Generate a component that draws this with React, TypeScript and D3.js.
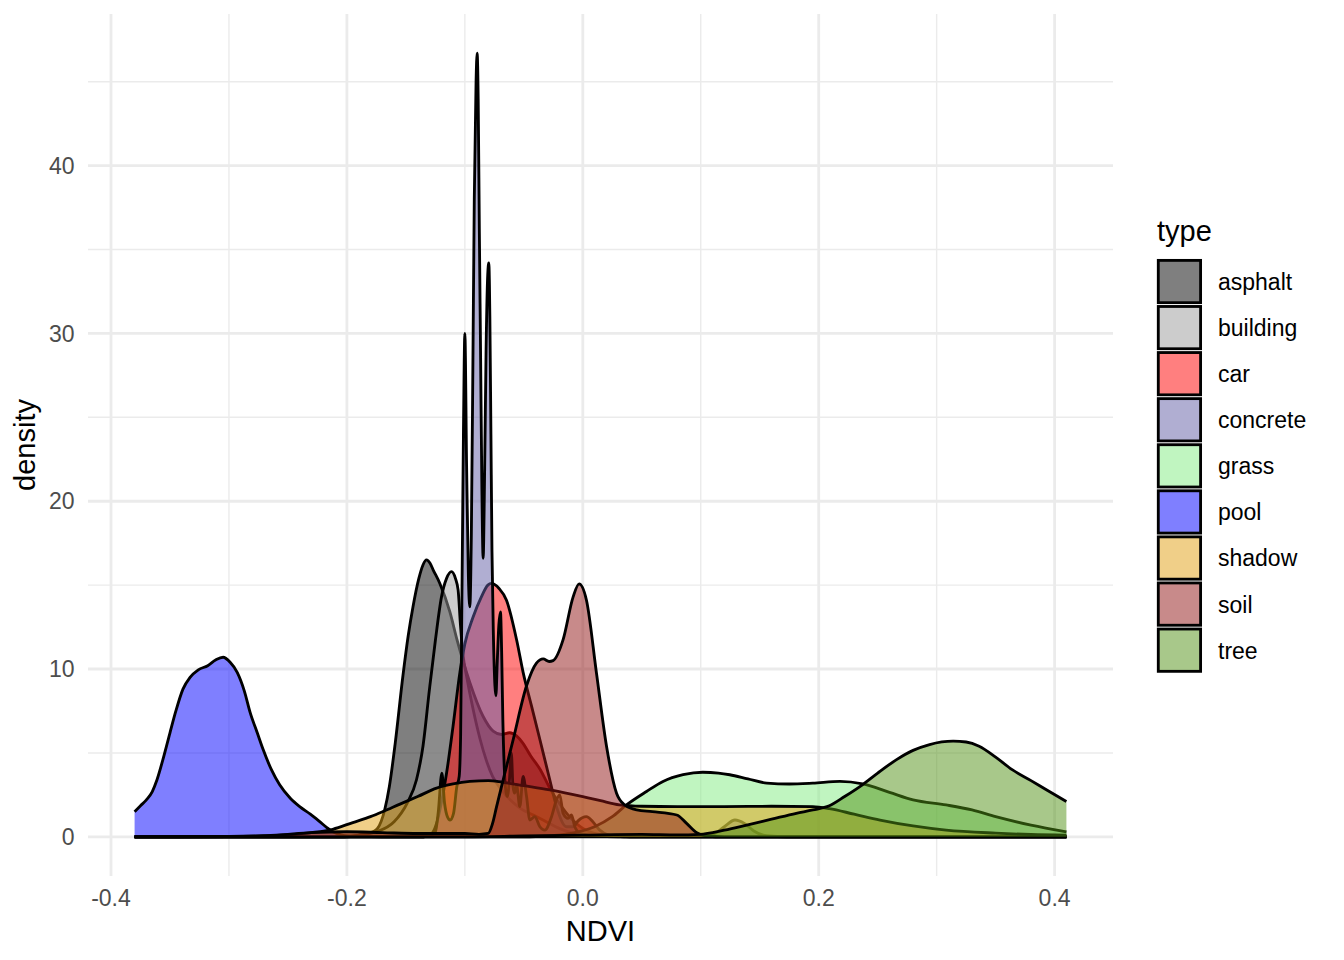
import React from "react";
import * as d3 from "d3";

type Pt = [number, number];

const TYPES = ["asphalt", "building", "car", "concrete", "grass", "pool", "shadow", "soil", "tree"];
const FILLS = ["#000000", "#999999", "#FF0000", "#615DA5", "#82EB82", "#0000FF", "#E19F11", "#911515", "#519115"];

const X_TICKS = [-0.4, -0.2, 0.0, 0.2, 0.4];
const X_TICK_LABELS = ["-0.4", "-0.2", "0.0", "0.2", "0.4"];
const X_MINOR = [-0.3, -0.1, 0.1, 0.3];
const Y_TICKS = [0, 10, 20, 30, 40];
const Y_MINOR = [5, 15, 25, 35, 45];

const asphalt: Pt[] = [[-0.38,0],[-0.21,0],[-0.195,0.05],[-0.185,0.15],[-0.178,0.3],[-0.174,0.5],[-0.168,1.6],[-0.164,3.0],[-0.159,5.6],[-0.1525,9.6],[-0.148,12.0],[-0.144,13.7],[-0.139,15.4],[-0.1355,16.2],[-0.1325,16.5],[-0.1295,16.3],[-0.1268,15.9],[-0.1212,15.1],[-0.1127,13.4],[-0.1065,11.7],[-0.0958,9.2],[-0.0847,7.2],[-0.076,6.3],[-0.069,6.1],[-0.062,6.2],[-0.056,6.0],[-0.051,5.6],[-0.044,4.8],[-0.036,4.0],[-0.028,2.9],[-0.02,2.0],[-0.01,1.1],[0,0.5],[0.01,0.2],[0.03,0.05],[0.05,0],[0.41,0]];

const building: Pt[] = [[-0.38,0],[-0.2,0],[-0.19,0.1],[-0.175,0.3],[-0.16,0.9],[-0.149,2.0],[-0.141,3.4],[-0.1355,5.4],[-0.13,8.8],[-0.125,11.7],[-0.1198,14.3],[-0.1155,15.4],[-0.1113,15.8],[-0.108,15.4],[-0.1057,14.7],[-0.1037,12.6],[-0.1015,10.8],[-0.0986,9.6],[-0.093,7.6],[-0.087,5.8],[-0.082,4.6],[-0.0765,3.6],[-0.07,2.9],[-0.06,2.1],[-0.053,1.7],[-0.042,1.3],[-0.031,0.9],[-0.02,0.5],[-0.01,0.25],[0,0.1],[0.02,0.02],[0.04,0],[0.41,0]];

const car: Pt[] = [[-0.38,0],[-0.135,0],[-0.128,0.2],[-0.124,0.8],[-0.12,2.0],[-0.1155,3.8],[-0.11,6.6],[-0.1042,9.8],[-0.1,11.5],[-0.093,13.1],[-0.086,14.3],[-0.0805,15.0],[-0.0774,15.1],[-0.071,14.8],[-0.0647,14.1],[-0.056,11.7],[-0.0506,9.8],[-0.0435,7.8],[-0.0364,5.8],[-0.028,3.4],[-0.0223,1.8],[-0.0138,0.6],[-0.008,0.6],[-0.004,0.95],[0.003,1.2],[0.0085,0.9],[0.0144,0.4],[0.022,0.1],[0.035,0],[0.41,0]];

const concrete: Pt[] = [[-0.38,0],[-0.14,0],[-0.13,0.05],[-0.125,0.3],[-0.1225,1.5],[-0.1195,3.8],[-0.1172,2.0],[-0.1148,1.2],[-0.1125,1.0],[-0.1096,1.4],[-0.1068,3.0],[-0.1048,3.6],[-0.1036,6],[-0.1025,14],[-0.1012,24],[-0.1,30],[-0.0985,22],[-0.097,15.5],[-0.0958,13.7],[-0.0945,18],[-0.0932,28],[-0.092,38],[-0.0905,45],[-0.0896,46.7],[-0.0887,44],[-0.0877,36],[-0.0867,29],[-0.0856,21],[-0.0845,16.6],[-0.0832,22],[-0.082,29],[-0.0806,33.5],[-0.0797,34.2],[-0.0788,31],[-0.0779,24],[-0.077,17],[-0.0758,12],[-0.0745,9],[-0.0737,8.4],[-0.0725,10.5],[-0.0712,12.6],[-0.0698,13.4],[-0.0688,11],[-0.0678,7],[-0.0665,4],[-0.0652,2.7],[-0.064,2.4],[-0.0622,3.4],[-0.0606,5.0],[-0.0592,3.0],[-0.0578,2.6],[-0.0562,3.1],[-0.0534,1.8],[-0.0506,3.6],[-0.0477,2.4],[-0.0449,1.0],[-0.0407,1.2],[-0.0364,0.6],[-0.0322,0.4],[-0.0265,1.2],[-0.0223,2.2],[-0.0195,2.5],[-0.0167,1.4],[-0.0125,1.1],[-0.0096,1.3],[-0.0068,0.6],[-0.002,0.2],[0.01,0.05],[0.1,0.05],[0.112,0.2],[0.12,0.6],[0.129,1.0],[0.137,0.8],[0.145,0.35],[0.153,0.1],[0.165,0.02],[0.18,0],[0.41,0]];

const grass: Pt[] = [[-0.38,0],[-0.06,0],[-0.03,0.05],[-0.01,0.2],[0.01,0.6],[0.025,1.2],[0.037,1.9],[0.054,2.7],[0.068,3.3],[0.085,3.7],[0.1017,3.85],[0.115,3.8],[0.1246,3.7],[0.14,3.45],[0.156,3.2],[0.175,3.15],[0.195,3.2],[0.218,3.3],[0.2373,3.15],[0.26,2.65],[0.28,2.2],[0.308,1.9],[0.33,1.6],[0.35,1.2],[0.38,0.7],[0.41,0.3]];

const pool: Pt[] = [[-0.38,1.5],[-0.375,1.85],[-0.37,2.2],[-0.365,2.7],[-0.361,3.4],[-0.356,4.6],[-0.35,6.2],[-0.345,7.5],[-0.339,8.8],[-0.333,9.5],[-0.326,9.95],[-0.318,10.2],[-0.311,10.55],[-0.305,10.7],[-0.299,10.4],[-0.293,9.8],[-0.287,8.7],[-0.282,7.4],[-0.276,6.2],[-0.271,5.2],[-0.264,4.0],[-0.257,3.1],[-0.248,2.3],[-0.24,1.8],[-0.231,1.35],[-0.223,0.9],[-0.217,0.55],[-0.212,0.3],[-0.205,0.12],[-0.195,0.04],[-0.18,0.01],[-0.15,0],[0.41,0]];

const shadow: Pt[] = [[-0.38,0],[-0.3,0.01],[-0.27,0.05],[-0.25,0.12],[-0.23,0.25],[-0.212,0.45],[-0.195,0.85],[-0.18,1.2],[-0.1695,1.5],[-0.155,1.95],[-0.14,2.4],[-0.124,2.9],[-0.11,3.15],[-0.0958,3.3],[-0.08,3.35],[-0.068,3.25],[-0.05,3.05],[-0.028,2.8],[-0.01,2.55],[0,2.4],[0.015,2.15],[0.031,1.9],[0.05,1.82],[0.08,1.8],[0.12,1.8],[0.16,1.82],[0.195,1.8],[0.209,1.68],[0.23,1.35],[0.252,1.0],[0.28,0.65],[0.308,0.4],[0.35,0.22],[0.38,0.14],[0.41,0.1]];

const soil: Pt[] = [[-0.38,0],[-0.3,0.02],[-0.26,0.1],[-0.23,0.25],[-0.2,0.3],[-0.17,0.25],[-0.14,0.2],[-0.1,0.2],[-0.088,0.15],[-0.0802,0.2],[-0.0765,0.8],[-0.0731,1.8],[-0.0675,3.4],[-0.059,5.8],[-0.0477,9.0],[-0.0393,10.35],[-0.0336,10.6],[-0.0285,10.45],[-0.0252,10.5],[-0.0167,11.75],[-0.0082,14.3],[-0.0031,15.07],[0.0031,14.1],[0.0116,9.75],[0.0201,5.4],[0.0286,2.6],[0.0356,1.9],[0.0458,1.6],[0.059,1.5],[0.0797,1.3],[0.088,0.8],[0.0966,0.25],[0.105,0.05],[0.12,0],[0.41,0]];

const tree: Pt[] = [[-0.38,0],[-0.1,0],[-0.05,0.05],[0,0.1],[0.05,0.15],[0.08,0.12],[0.099,0.15],[0.12,0.4],[0.139,0.7],[0.16,1.05],[0.181,1.4],[0.195,1.6],[0.209,1.85],[0.222,2.4],[0.237,3.1],[0.25,3.8],[0.266,4.6],[0.28,5.15],[0.294,5.5],[0.314,5.7],[0.325,5.65],[0.336,5.4],[0.35,4.75],[0.364,4.0],[0.38,3.35],[0.393,2.8],[0.41,2.1]];

const SERIES: Pt[][] = [asphalt, building, car, concrete, grass, pool, shadow, soil, tree];

const W = 1344;
const H = 960;
const PANEL = { left: 88, right: 1113, top: 14, bottom: 876 };
const FONT = "'Liberation Sans', Arial, Helvetica, sans-serif";
const LW = 2.84;

export default function App() {
  const xLo = -0.38, xHi = 0.41, yHi = 46.7;
  const xPad = (xHi - xLo) * 0.05;
  const yPad = yHi * 0.05;
  const x = d3.scaleLinear().domain([xLo - xPad, xHi + xPad]).range([PANEL.left, PANEL.right]);
  const y = d3.scaleLinear().domain([-yPad, yHi + yPad]).range([PANEL.bottom, PANEL.top]);

  const area = d3.area<Pt>().x((d) => x(d[0])).y0(y(0)).y1((d) => y(d[1])).curve(d3.curveMonotoneX);
  const line = d3.line<Pt>().x((d) => x(d[0])).y((d) => y(d[1])).curve(d3.curveMonotoneX);

  const keySize = 46.08;
  const keyTop = 258.5;
  const keyLeft = 1156.4;
  const inset = 1.89;

  return (
    <svg width={W} height={H} style={{ position: "absolute", left: 0, top: 0, background: "#fff" }} fontFamily={FONT}>
      <rect x={0} y={0} width={W} height={H} fill="#fff" />
      {/* grid */}
      {Y_MINOR.map((v) => (
        <line key={"ym" + v} x1={PANEL.left} x2={PANEL.right} y1={y(v)} y2={y(v)} stroke="#EBEBEB" strokeWidth={1.42} />
      ))}
      {X_MINOR.map((v) => (
        <line key={"xm" + v} x1={x(v)} x2={x(v)} y1={PANEL.top} y2={PANEL.bottom} stroke="#EBEBEB" strokeWidth={1.42} />
      ))}
      {Y_TICKS.map((v) => (
        <line key={"yM" + v} x1={PANEL.left} x2={PANEL.right} y1={y(v)} y2={y(v)} stroke="#EBEBEB" strokeWidth={2.84} />
      ))}
      {X_TICKS.map((v) => (
        <line key={"xM" + v} x1={x(v)} x2={x(v)} y1={PANEL.top} y2={PANEL.bottom} stroke="#EBEBEB" strokeWidth={2.84} />
      ))}
      {/* densities */}
      {SERIES.map((pts, i) => (
        <g key={TYPES[i]}>
          <path d={area(pts) || ""} fill={FILLS[i]} fillOpacity={0.5} stroke="none" />
          <path d={line(pts) || ""} fill="none" stroke="#000" strokeWidth={LW} strokeLinejoin="round" strokeLinecap="butt" />
        </g>
      ))}
      {/* axis labels */}
      {Y_TICKS.map((v) => (
        <text key={"yl" + v} x={74.5} y={y(v) + 8.2} textAnchor="end" fontSize={23} fill="#4D4D4D">
          {String(v)}
        </text>
      ))}
      {X_TICKS.map((v, i) => (
        <text key={"xl" + v} x={x(v)} y={906} textAnchor="middle" fontSize={23} fill="#4D4D4D">
          {X_TICK_LABELS[i]}
        </text>
      ))}
      <text x={(PANEL.left + PANEL.right) / 2} y={941} textAnchor="middle" fontSize={29} fill="#000">
        NDVI
      </text>
      <text transform={`translate(35,${(PANEL.top + PANEL.bottom) / 2}) rotate(-90)`} textAnchor="middle" fontSize={29} fill="#000">
        density
      </text>
      {/* legend */}
      <text x={1157} y={241} fontSize={29} fill="#000">
        type
      </text>
      {TYPES.map((t, i) => {
        const top = keyTop + i * keySize;
        return (
          <g key={"lg" + t}>
            <rect x={keyLeft} y={top} width={keySize} height={keySize} fill="#fff" />
            <rect
              x={keyLeft + inset}
              y={top + inset}
              width={keySize - 2 * inset}
              height={keySize - 2 * inset}
              fill={FILLS[i]}
              fillOpacity={0.5}
              stroke="#000"
              strokeWidth={LW}
            />
            <text x={1218} y={top + keySize / 2 + 8.4} fontSize={23} fill="#000">
              {t}
            </text>
          </g>
        );
      })}
    </svg>
  );
}
